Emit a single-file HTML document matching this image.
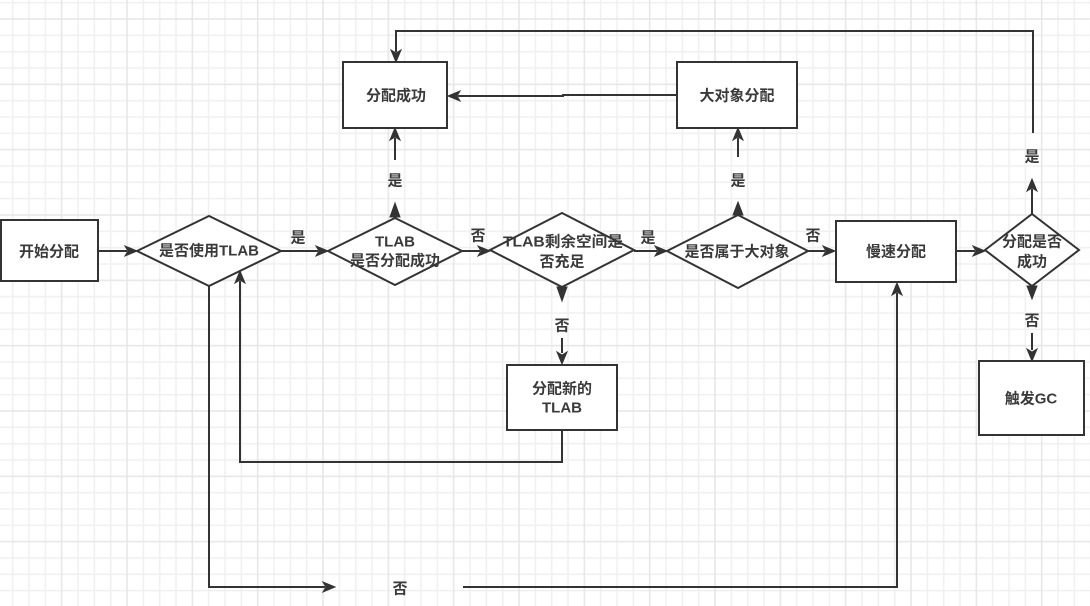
<!DOCTYPE html>
<html>
<head>
<meta charset="utf-8">
<style>
  html, body { margin: 0; padding: 0; background: #ffffff; }
  body { width: 1090px; height: 606px; overflow: hidden; }
  svg { display: block; }
  .node { font-family: "Liberation Sans", "Noto Sans CJK SC", sans-serif; font-size: 15px; font-weight: bold; fill: #3a3a3a; }
  .lbl { font-family: "Liberation Sans", "Noto Sans CJK SC", sans-serif; font-size: 15px; font-weight: bold; fill: #3a3a3a; }
</style>
</head>
<body>
<svg width="1090" height="606" viewBox="0 0 1090 606" xmlns="http://www.w3.org/2000/svg">
  <defs>
    <pattern id="grid" patternUnits="userSpaceOnUse" x="53.7" y="11" width="65.333" height="65.333">
      <rect x="0" y="0" width="65.333" height="65.333" fill="#ffffff"/>
      <rect x="23.58" y="0" width="1.5" height="65.333" fill="#f0f0f0"/>
      <rect x="39.92" y="0" width="1.5" height="65.333" fill="#f0f0f0"/>
      <rect x="56.25" y="0" width="1.5" height="65.333" fill="#f0f0f0"/>
      <rect x="0" y="23.58" width="65.333" height="1.5" fill="#f0f0f0"/>
      <rect x="0" y="39.92" width="65.333" height="1.5" fill="#f0f0f0"/>
      <rect x="0" y="56.25" width="65.333" height="1.5" fill="#f0f0f0"/>
      <rect x="7.25" y="0" width="1.5" height="65.333" fill="#e6e6e6"/>
      <rect x="0" y="7.25" width="65.333" height="1.5" fill="#e6e6e6"/>
    </pattern>
  </defs>
  <rect x="0" y="0" width="1090" height="606" fill="url(#grid)"/>

  <!-- ===== Connectors ===== -->
  <g stroke="#333333" stroke-width="2" fill="none" stroke-linejoin="miter">
    <line x1="98" y1="251" x2="127" y2="251"/>
    <line x1="281" y1="251" x2="318" y2="251"/>
    <line x1="462" y1="251" x2="480" y2="251"/>
    <line x1="634" y1="251" x2="657" y2="251"/>
    <line x1="808" y1="251" x2="825" y2="251"/>
    <line x1="956" y1="251" x2="975" y2="251"/>
    <polyline points="209,285 209,587 325,587"/>
    <polyline points="463,587 897,587 897,293"/>
    <polyline points="562,430 562,462 240,462 240,281"/>
    <line x1="395" y1="160" x2="395" y2="138"/>
    <line x1="738" y1="157" x2="738" y2="138"/>
    <polyline points="677,95 563,95 563,96 458,96"/>
    <line x1="562" y1="338" x2="562" y2="353"/>
    <line x1="1032" y1="214" x2="1032" y2="189"/>
    <polyline points="1033,133 1033,31 396,31 396,52"/>
    <line x1="1032" y1="333" x2="1032" y2="350"/>
  </g>

  <!-- ===== Arrowheads ===== -->
  <g fill="#333333" stroke="#333333" stroke-width="1" stroke-linejoin="miter">
    <polygon points="137,251 125,246 128,251 125,256"/>
    <polygon points="328,251 316,246 319,251 316,256"/>
    <polygon points="490,251 478,246 481,251 478,256"/>
    <polygon points="667,251 655,246 658,251 655,256"/>
    <polygon points="835,251 823,246 826,251 823,256"/>
    <polygon points="985,251 973,246 976,251 973,256"/>
    <polygon points="335,587 323,582 326,587 323,592"/>
    <polygon points="897,283 892,295 897,292 902,295"/>
    <polygon points="240,271 235,283 240,280 245,283"/>
    <polygon points="395,128 390,140 395,137 400,140"/>
    <polygon points="738,128 733,140 738,137 743,140"/>
    <polygon points="1032,179 1027,191 1032,188 1037,191"/>
    <polygon points="448,96 460,91 457,96 460,101"/>
    <polygon points="396,62 391,50 396,53 401,50"/>
    <polygon points="562,364 557,352 562,355 567,352"/>
    <polygon points="1032,361 1027,349 1032,352 1037,349"/>
    <polygon points="395,203 390,217 400,217"/>
    <polygon points="738,202 733,215 743,215"/>
    <polygon points="562,301 557,287 567,287"/>
    <polygon points="1032,299 1027,286 1037,286"/>
  </g>

  <!-- ===== Nodes ===== -->
  <g stroke="#333333" stroke-width="2" fill="#ffffff">
    <rect x="1" y="220" width="97" height="61"/>
    <polygon points="137,251 209,216 281,251 209,286"/>
    <polygon points="328,251 395,218 462,251 395,285"/>
    <polygon points="490,250 562,213 634,250 562,287"/>
    <polygon points="667,251 738,215 808,251 738,288"/>
    <rect x="836" y="221" width="120" height="61"/>
    <polygon points="985,250 1032,214 1079,250 1032,286"/>
    <rect x="343" y="62" width="104" height="66"/>
    <rect x="677" y="62" width="120" height="66"/>
    <rect x="507" y="365" width="110" height="65"/>
    <rect x="979" y="361" width="105" height="74"/>
  </g>

  <!-- ===== Node text ===== -->
  <g class="node" text-anchor="middle" dominant-baseline="central">
    <text x="49" y="252">开始分配</text>
    <text x="209" y="251">是否使用TLAB</text>
    <text x="395" y="242">TLAB</text>
    <text x="395" y="261">是否分配成功</text>
    <text x="563" y="242" textLength="120" lengthAdjust="spacingAndGlyphs">TLAB剩余空间是</text>
    <text x="562" y="262">否充足</text>
    <text x="737" y="252">是否属于大对象</text>
    <text x="896" y="252">慢速分配</text>
    <text x="1032" y="242">分配是否</text>
    <text x="1032" y="262">成功</text>
    <text x="396" y="96">分配成功</text>
    <text x="737" y="96">大对象分配</text>
    <text x="562" y="389">分配新的</text>
    <text x="562" y="408">TLAB</text>
    <text x="1031" y="399">触发GC</text>
  </g>

  <!-- ===== Edge labels ===== -->
  <g class="lbl" text-anchor="middle" dominant-baseline="central">
    <text x="298" y="238">是</text>
    <text x="478" y="236">否</text>
    <text x="648" y="238">是</text>
    <text x="813" y="236">否</text>
    <text x="395" y="181">是</text>
    <text x="738" y="181">是</text>
    <text x="562" y="326">否</text>
    <text x="1032" y="157">是</text>
    <text x="1032" y="321">否</text>
    <text x="400" y="589">否</text>
  </g>
</svg>
</body>
</html>
